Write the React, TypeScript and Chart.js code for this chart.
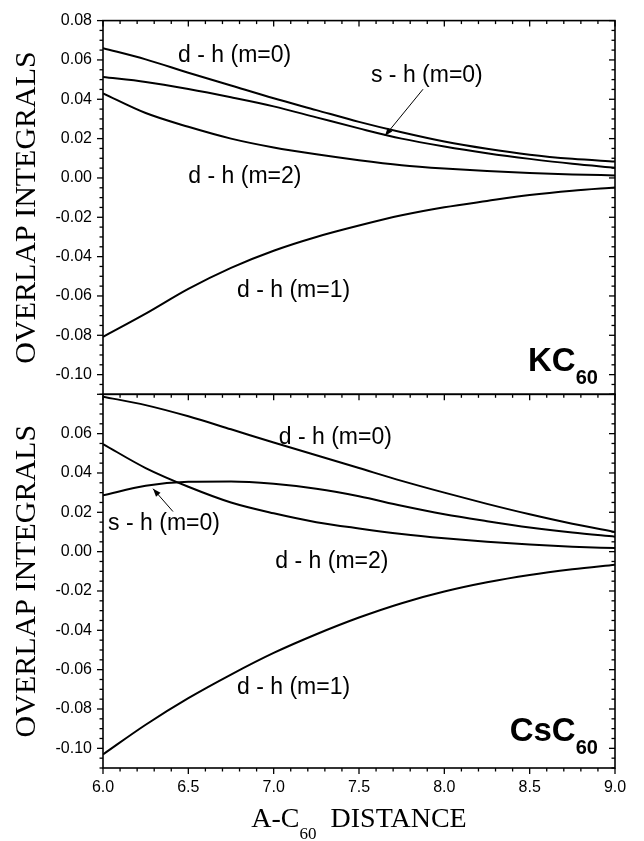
import React, { useEffect, useRef } from 'react';
import { Chart, registerables } from 'chart.js';
Chart.register(...registerables);

// A-C60 distance grid
const distances = [6.0, 6.25, 6.5, 6.75, 7.0, 7.25, 7.5, 7.75, 8.0, 8.25, 8.5, 8.75, 9.0];

// KC60 panel
const kcDhM0 = [0.066, 0.0603, 0.0535, 0.047, 0.0405, 0.0345, 0.0285, 0.0232, 0.0185, 0.0148, 0.0118, 0.0097, 0.0083];
const kcShM0 = [0.0513, 0.0488, 0.0452, 0.041, 0.0364, 0.0308, 0.0252, 0.02, 0.016, 0.0126, 0.0097, 0.0072, 0.0052];
const kcDhM2 = [0.043, 0.033, 0.026, 0.02, 0.0155, 0.012, 0.009, 0.0065, 0.0048, 0.0035, 0.0025, 0.0018, 0.0013];
const kcDhM1 = [-0.0808, -0.069, -0.0564, -0.0457, -0.037, -0.03, -0.0242, -0.019, -0.0149, -0.0117, -0.0087, -0.0065, -0.0049];

// CsC60 panel
const csDhM0 = [0.0788, 0.0745, 0.0688, 0.0622, 0.0555, 0.049, 0.0425, 0.036, 0.03, 0.0243, 0.019, 0.0142, 0.01];
const csShM0 = [0.0286, 0.0335, 0.0355, 0.0357, 0.0345, 0.032, 0.0282, 0.0233, 0.019, 0.0155, 0.0123, 0.0097, 0.0076];
const csDhM2 = [0.0547, 0.0425, 0.033, 0.025, 0.0195, 0.015, 0.0118, 0.009, 0.0068, 0.005, 0.0036, 0.0025, 0.0018];
const csDhM1 = [-0.1031, -0.088, -0.0745, -0.0625, -0.0515, -0.042, -0.0335, -0.0262, -0.0203, -0.0156, -0.0119, -0.009, -0.0066];

// ticks
const xTicks = [6.0, 6.5, 7.0, 7.5, 8.0, 8.5, 9.0];
const yTicksTop = [0.08, 0.06, 0.04, 0.02, 0.0, -0.02, -0.04, -0.06, -0.08, -0.1];
const yTicksBottom = [0.06, 0.04, 0.02, 0.0, -0.02, -0.04, -0.06, -0.08, -0.1];

// text labels: [text, x (distance), y (value)]
const topLabels: [string, number, number][] = [
  ['d - h (m=0)', 6.44, 0.0588],
  ['s - h (m=0)', 7.57, 0.0487],
  ['d - h (m=2)', 6.5, -0.0024],
  ['d - h (m=1)', 6.785, -0.0605],
];
const bottomLabels: [string, number, number][] = [
  ['d - h (m=0)', 7.03, 0.0547],
  ['s - h (m=0)', 6.03, 0.0108],
  ['d - h (m=2)', 7.01, -0.0084],
  ['d - h (m=1)', 6.785, -0.0725],
];
// arrows: [fromX, fromY, toX, toY]
const topArrow = [7.875, 0.0451, 7.652, 0.0214];
const bottomArrow = [6.41, 0.0204, 6.293, 0.032];

const SANS = '"Liberation Sans", Arial, sans-serif';
const SERIF = '"Liberation Serif", "Times New Roman", serif';

function toPts(ys: number[]) {
  return distances.map((x, i) => ({ x, y: ys[i] }));
}

const panelPlugin = {
  id: 'panelDecor',
  afterDraw(chart: any) {
    const ctx = chart.ctx as CanvasRenderingContext2D;
    const xs = chart.scales.x;
    const yT = chart.scales.yTop;
    const yB = chart.scales.yBot;
    const L = xs.left, R = xs.right;
    const line = (x1: number, y1: number, x2: number, y2: number) => {
      ctx.beginPath();
      ctx.moveTo(x1, y1);
      ctx.lineTo(x2, y2);
      ctx.stroke();
    };
    ctx.save();
    ctx.strokeStyle = '#000';
    ctx.fillStyle = '#000';
    ctx.lineWidth = 1.6;
    for (const ys of [yT, yB]) {
      ctx.strokeRect(L, ys.top, R - L, ys.bottom - ys.top);
    }
    ctx.lineWidth = 1.3;
    for (const ys of [yT, yB]) {
      const kMin = Math.round(ys.min / 0.005);
      const kMax = Math.round(ys.max / 0.005);
      for (let k = kMin; k <= kMax; k++) {
        const v = k * 0.005;
        const major = Math.abs(k) % 4 === 0;
        const py = ys.getPixelForValue(v);
        const len = major ? 6 : 3.5;
        line(L - len, py, L, py);
        line(R - len, py, R, py);
      }
    }
    for (let k = 60; k <= 90; k++) {
      const v = k / 10;
      const major = k % 5 === 0;
      const px = xs.getPixelForValue(v);
      const len = major ? 6 : 3.5;
      line(px, yT.top, px, yT.top + len);
      line(px, yB.top, px, yB.top + len);
      line(px, yB.bottom, px, yB.bottom + len);
    }

    // axis titles
    ctx.font = `30px ${SERIF}`;
    ctx.textAlign = 'center';
    ctx.textBaseline = 'alphabetic';
    for (const ys of [yT, yB]) {
      ctx.save();
      ctx.translate(35, (ys.top + ys.bottom) / 2);
      ctx.rotate(-Math.PI / 2);
      ctx.fillText('OVERLAP INTEGRALS', 0, 0);
      ctx.restore();
    }
    // x title with subscript
    const big = `28px ${SERIF}`;
    const small = `17px ${SERIF}`;
    ctx.textAlign = 'left';
    ctx.font = big;
    const w1 = ctx.measureText('A-C').width;
    const w3 = ctx.measureText('DISTANCE').width;
    ctx.font = small;
    const w2 = ctx.measureText('60').width;
    const gap = 14;
    const total = w1 + w2 + gap + w3;
    let tx = (L + R) / 2 - total / 2;
    const base = xs.top + 59;
    ctx.font = big;
    ctx.fillText('A-C', tx, base);
    tx += w1;
    ctx.font = small;
    ctx.fillText('60', tx, base + 12);
    tx += w2 + gap;
    ctx.font = big;
    ctx.fillText('DISTANCE', tx, base);

    // curve labels
    ctx.font = `23px ${SANS}`;
    ctx.textAlign = 'left';
    for (const [t, x, y] of topLabels) ctx.fillText(t, xs.getPixelForValue(x), yT.getPixelForValue(y));
    for (const [t, x, y] of bottomLabels) ctx.fillText(t, xs.getPixelForValue(x), yB.getPixelForValue(y));

    // arrows
    ctx.lineWidth = 1;
    const arrow = (a: number[], ys: any) => {
      const x1 = xs.getPixelForValue(a[0]), y1 = ys.getPixelForValue(a[1]);
      const x2 = xs.getPixelForValue(a[2]), y2 = ys.getPixelForValue(a[3]);
      line(x1, y1, x2, y2);
      const ang = Math.atan2(y2 - y1, x2 - x1);
      const hl = 8, hw = 3;
      ctx.beginPath();
      ctx.moveTo(x2, y2);
      ctx.lineTo(x2 - hl * Math.cos(ang) + hw * Math.sin(ang), y2 - hl * Math.sin(ang) - hw * Math.cos(ang));
      ctx.lineTo(x2 - hl * Math.cos(ang) - hw * Math.sin(ang), y2 - hl * Math.sin(ang) + hw * Math.cos(ang));
      ctx.closePath();
      ctx.fill();
    };
    arrow(topArrow, yT);
    arrow(bottomArrow, yB);

    // panel tags
    const tag = (main: string, ys: any, yMain: number, ySub: number) => {
      ctx.font = `bold 20px ${SANS}`;
      const ws = ctx.measureText('60').width;
      ctx.font = `bold 33px ${SANS}`;
      const wm = ctx.measureText(main).width;
      const right = xs.getPixelForValue(8.9);
      ctx.textAlign = 'left';
      ctx.fillText(main, right - ws - wm, ys.getPixelForValue(yMain));
      ctx.font = `bold 20px ${SANS}`;
      ctx.fillText('60', right - ws, ys.getPixelForValue(ySub));
    };
    tag('KC', yT, -0.0984, -0.105);
    tag('CsC', yB, -0.0964, -0.103);
    ctx.restore();
  },
};

export default function App() {
  const ref = useRef<HTMLCanvasElement | null>(null);
  useEffect(() => {
    document.body.style.margin = '0';
    const canvas = ref.current;
    if (!canvas) return;
    const tickFont = { family: SANS, size: 16 };
    const mk = (label: string, ys: number[], axis: string) => ({
      label,
      data: toPts(ys),
      yAxisID: axis,
      borderColor: '#000',
      backgroundColor: '#000',
      borderWidth: 2,
      pointRadius: 0,
      cubicInterpolationMode: 'monotone' as const,
      fill: false,
    });
    const yScale = (ticksArr: number[], hideTop: boolean) => ({
      type: 'linear' as const,
      position: 'left' as const,
      stack: 'panels',
      stackWeight: 1,
      min: -0.11,
      max: 0.08,
      afterBuildTicks: (s: any) => {
        s.ticks = ticksArr.map((v) => ({ value: v }));
      },
      afterFit: (s: any) => {
        s.width = 103;
      },
      ticks: {
        font: tickFont,
        color: '#000',
        padding: 11,
        autoSkip: false,
        callback: (v: any) => (hideTop && v > 0.075 ? '' : Number(v).toFixed(2)),
      },
      grid: { display: false, drawTicks: false },
      border: { display: false },
    });
    const chart = new Chart(canvas, {
      type: 'line',
      data: {
        datasets: [
          mk('KC d-h m=0', kcDhM0, 'yTop'),
          mk('KC s-h m=0', kcShM0, 'yTop'),
          mk('KC d-h m=2', kcDhM2, 'yTop'),
          mk('KC d-h m=1', kcDhM1, 'yTop'),
          mk('CsC d-h m=0', csDhM0, 'yBot'),
          mk('CsC s-h m=0', csShM0, 'yBot'),
          mk('CsC d-h m=2', csDhM2, 'yBot'),
          mk('CsC d-h m=1', csDhM1, 'yBot'),
        ],
      },
      options: {
        responsive: false,
        animation: false,
        layout: { padding: { left: 0, right: 29, top: 15, bottom: 0 } },
        plugins: { legend: { display: false }, tooltip: { enabled: false } },
        scales: {
          x: {
            type: 'linear',
            min: 6,
            max: 9,
            afterBuildTicks: (s: any) => {
              s.ticks = xTicks.map((v) => ({ value: v }));
            },
            afterFit: (s: any) => {
              s.height = 73;
            },
            ticks: {
              font: tickFont,
              color: '#000',
              padding: 10,
              maxRotation: 0,
              autoSkip: false,
              callback: (v: any) => Number(v).toFixed(1),
            },
            grid: { display: false, drawTicks: false },
            border: { display: false },
          },
          yBot: yScale(yTicksBottom, true),
          yTop: yScale(yTicksTop, false),
        },
      } as any,
      plugins: [panelPlugin],
    });
    return () => chart.destroy();
  }, []);
  return (
    <div style={{ width: 644, height: 841 }}>
      <canvas ref={ref} width={644} height={841} style={{ display: 'block' }} />
    </div>
  );
}
